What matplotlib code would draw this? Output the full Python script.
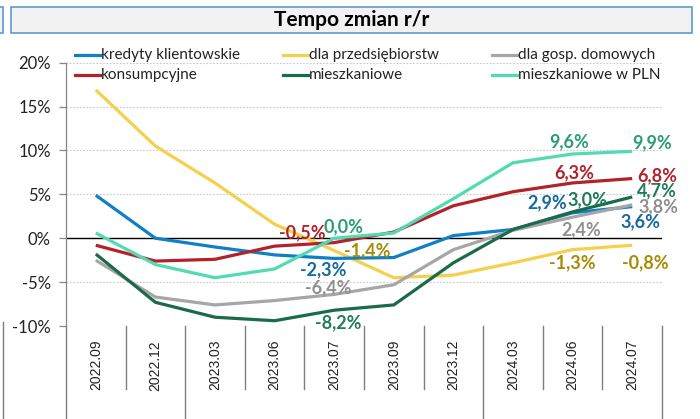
import matplotlib
matplotlib.use("Agg")
import matplotlib.pyplot as plt
from matplotlib.lines import Line2D
from matplotlib.patches import Rectangle
from matplotlib.transforms import blended_transform_factory

# ---------------- data ----------------
categories = ["2022.09", "2022.12", "2023.03", "2023.06", "2023.07",
              "2023.09", "2023.12", "2024.03", "2024.06", "2024.07"]
series_names = ["kredyty klientowskie", "dla przedsiębiorstw", "dla gosp. domowych",
                "konsumpcyjne", "mieszkaniowe", "mieszkaniowe w PLN"]
kredyty = [4.9, 0.0, -1.0, -1.9, -2.3, -2.2, 0.3, 1.0, 2.9, 3.6]
przedsiebiorstwa = [16.9, 10.5, 6.3, 1.6, -1.4, -4.5, -4.2, -2.8, -1.3, -0.8]
gosp_domowe = [-2.5, -6.7, -7.6, -7.1, -6.4, -5.3, -1.3, 0.9, 2.4, 3.8]
konsumpcyjne = [-0.8, -2.6, -2.4, -0.9, -0.5, 0.7, 3.7, 5.3, 6.3, 6.8]
mieszkaniowe = [-1.8, -7.3, -9.0, -9.4, -8.2, -7.6, -2.8, 1.0, 3.0, 4.7]
mieszkaniowe_pln = [0.6, -3.0, -4.5, -3.5, 0.0, 0.6, 4.5, 8.6, 9.6, 9.9]
labelled_idx = [4, 8, 9]
title = "Tempo zmian r/r"
yticks = [-10, -5, 0, 5, 10, 15, 20]

# ---------------- style ----------------
FONT = ["Lato", "DejaVu Sans"]
plt.rcParams["font.family"] = FONT
W, H = 700, 419
fig = plt.figure(figsize=(W / 100, H / 100), dpi=100)

def fx(px):
    return px / W

def fy(py):
    return 1 - py / H

ax_l, ax_r, ax_t, ax_b = 66, 662, 62.7, 326
ax = fig.add_axes([fx(ax_l), fy(ax_b), fx(ax_r - ax_l), (ax_b - ax_t) / H])

line_colors = ["#0F7FC6", "#F5D04C", "#A6A6A6", "#B3222B", "#1B6B4B", "#52DBB2"]
label_colors = ["#1569A0", "#A88A05", "#8F8F8F", "#B3222B", "#1F7C58", "#2C9C76"]
all_series = [kredyty, przedsiebiorstwa, gosp_domowe, konsumpcyjne, mieszkaniowe, mieszkaniowe_pln]
z_order = [3, 2, 3, 3, 4, 3]

x = list(range(len(categories)))
for s, c, z in zip(all_series, line_colors, z_order):
    ax.plot(x, s, color=c, lw=2.3, solid_capstyle="butt", solid_joinstyle="miter", zorder=z)

ax.set_xlim(-0.5, len(categories) - 0.5)
ax.set_ylim(-10, 20)
ax.set_yticks(yticks)
ax.set_yticklabels([f"{t}%" for t in yticks], fontsize=12, color="#222222")
ax.tick_params(axis="y", length=5, width=0.9, color="#868686", pad=6)
for t in yticks:
    if t == 0:
        ax.axhline(0, color="black", lw=1.0, zorder=1)
    else:
        ax.axhline(t, color="#C8C8C8", lw=0.8, ls=(0, (1.5, 1.5)), zorder=0)

for sp in ["top", "right", "bottom"]:
    ax.spines[sp].set_visible(False)
ax.spines["left"].set_color("#868686")
ax.spines["left"].set_linewidth(0.9)
ax.spines["left"].set_bounds(-10, 20)

# category labels (rotated)
ax.set_xticks(x)
ax.set_xticklabels(categories, rotation=90, fontsize=10, family=["Liberation Sans", "DejaVu Sans"],
                   color="#222222")
ax.tick_params(axis="x", length=0, pad=10)

# category separators (multi-level axis)
axes_h = ax_b - ax_t
trans = blended_transform_factory(ax.transData, ax.transAxes)
short_len = 63 / axes_h
long_len = (H - ax_b + 5) / axes_h
group_bounds = [-0.5, 1.5, 6.5, len(categories) - 0.5]
for k in range(len(categories) + 1):
    xb = k - 0.5
    ln = long_len if xb in group_bounds else short_len
    ax.plot([xb, xb], [0, -ln], transform=trans, color="#7F7F7F", lw=1.0, clip_on=False)

# data labels
label_offsets = {
    (0, 4): (-11, -11), (1, 4): (33, 0), (2, 4): (-6, 7), (3, 4): (-32, 10),
    (4, 4): (4, -13), (5, 4): (9, 11),
    (0, 8): (-25, 10), (1, 8): (0, -13), (2, 8): (9, -13), (3, 8): (2, 10),
    (4, 8): (15, 12), (5, 8): (-3, 12),
    (0, 9): (8, -15), (1, 9): (13, -17), (2, 9): (26, -2), (3, 9): (25, 3),
    (4, 9): (25, 6), (5, 9): (20, 9),
}
for si, (s, c) in enumerate(zip(all_series, label_colors)):
    for i in labelled_idx:
        dx, dy = label_offsets[(si, i)]
        txt = f"{s[i]:.1f}".replace(".", ",") + "%"
        ax.annotate(txt, xy=(i, s[i]), xytext=(dx, dy), textcoords="offset pixels",
                    ha="center", va="center", fontsize=13, fontweight="bold", color=c,
                    zorder=6, annotation_clip=False)

# legend (manual, 3 columns x 2 rows)
leg_cols = [75, 283, 492]
leg_rows = [55, 75]
for n, (name, c) in enumerate(zip(series_names, line_colors)):
    col, row = n % 3, n // 3
    x0, y0 = leg_cols[col], leg_rows[row]
    fig.add_artist(Line2D([fx(x0), fx(x0 + 25)], [fy(y0), fy(y0)], color=c, lw=2.3,
                          transform=fig.transFigure))
    fig.text(fx(x0 + 26), fy(y0), name, fontsize=11, color="#222222", va="center", ha="left")

# title box
fig.add_artist(Rectangle((fx(11), fy(33)), fx(681), (33 - 7) / H, transform=fig.transFigure,
                         facecolor="#F2F2F2", edgecolor="#5B9BD5", lw=1.2))
fig.text(fx(352), fy(20), title, fontsize=15, fontweight="bold", color="black",
         ha="center", va="center")
# fragment of neighbouring box / axis at the left edge
fig.add_artist(Rectangle((fx(-10), fy(33)), fx(13), (33 - 7) / H, transform=fig.transFigure,
                         facecolor="#F2F2F2", edgecolor="#5B9BD5", lw=1.2))
fig.add_artist(Line2D([fx(2.5), fx(2.5)], [fy(322), fy(H + 2)], color="#7F7F7F", lw=1.0,
                      transform=fig.transFigure))

fig.savefig("out.png", dpi=100)
